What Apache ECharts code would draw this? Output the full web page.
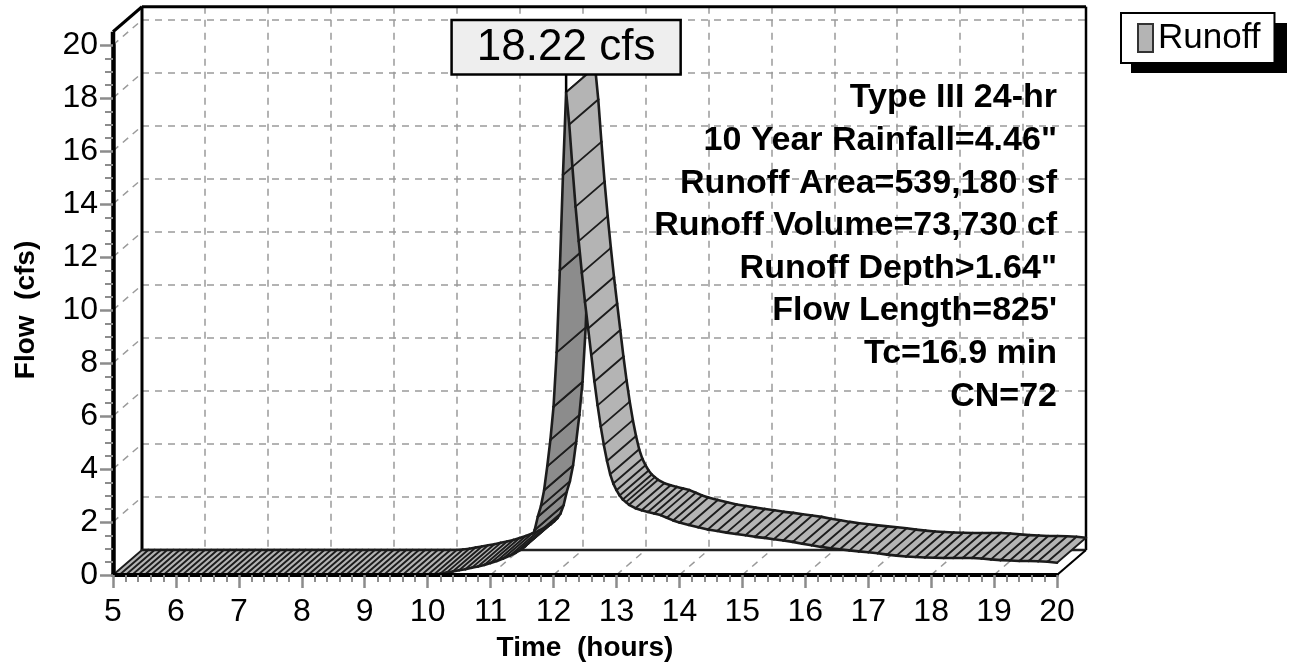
<!DOCTYPE html>
<html><head><meta charset="utf-8">
<script src="https://cdn.jsdelivr.net/npm/echarts@6/dist/echarts.min.js"></script>
<style>html,body{margin:0;padding:0;background:#fff}#c{width:1291px;height:664px}</style>
</head><body><div id="c"></div>
<script>
// ---- data (hours, cfs) ----
const times = [
 5.0,5.1,5.2,5.3,5.4,5.5,5.6,5.7,5.8,5.9,6.0,6.1,6.2,6.3,6.4,6.5,6.6,6.7,6.8,6.9,
 7.0,7.1,7.2,7.3,7.4,7.5,7.6,7.7,7.8,7.9,8.0,8.1,8.2,8.3,8.4,8.5,8.6,8.7,8.8,8.9,
 9.0,9.1,9.2,9.3,9.4,9.5,9.6,9.7,9.8,9.9,10.0,10.1,10.2,10.3,10.4,10.5,10.6,10.7,10.8,10.9,
 11.0,11.1,11.2,11.3,11.4,11.5,11.55,11.6,11.65,11.7,11.75,11.8,11.85,11.9,11.95,
 12.0,12.05,12.1,12.15,12.2,12.25,12.3,12.35,12.4,12.45,12.5,12.55,12.6,12.65,12.7,12.75,12.8,12.85,12.9,12.95,
 13.0,13.05,13.1,13.15,13.2,13.3,13.4,13.5,13.6,13.7,13.8,13.9,
 14.0,14.15,14.3,14.45,14.6,14.75,14.9,15.05,15.2,15.35,15.5,15.65,15.8,15.95,
 16.1,16.25,16.4,16.55,16.7,16.85,17.0,17.15,17.3,17.45,17.6,17.75,17.9,18.05,
 18.2,18.35,18.5,18.65,18.8,18.95,19.1,19.25,19.4,19.55,19.7,19.85,20.0
];
const flows = [
 0,0,0,0,0,0,0,0,0,0,0,0,0,0,0,0,0,0,0,0,
 0,0,0,0,0,0,0,0,0,0,0,0,0,0,0,0,0,0,0,0,
 0,0,0,0,0,0,0,0,0,0,0,0.02,0.05,0.09,0.13,0.18,0.22,0.27,0.32,0.38,
 0.45,0.53,0.62,0.72,0.84,0.98,1.08,1.20,1.38,1.70,2.20,2.60,3.20,4.10,5.10,
 6.35,8.40,11.5,15.1,18.22,17.0,15.4,13.9,12.6,11.4,10.3,9.3,8.3,7.3,6.4,5.6,4.9,4.3,3.8,3.45,
 3.20,3.00,2.85,2.75,2.65,2.52,2.44,2.38,2.32,2.26,2.16,2.06,
 1.98,1.89,1.80,1.72,1.66,1.60,1.55,1.50,1.44,1.40,1.35,1.30,1.25,1.18,
 1.12,1.06,1.01,0.97,0.93,0.89,0.86,0.82,0.77,0.73,0.70,0.68,0.66,0.65,
 0.64,0.64,0.64,0.64,0.62,0.59,0.56,0.55,0.53,0.53,0.52,0.50,0.46
];
const peakTime = 12.2;
const peakFlow = 18.22;
const peakLabel = '18.22 cfs';
const infoLines = ['Type III 24-hr','10 Year Rainfall=4.46"','Runoff Area=539,180 sf','Runoff Volume=73,730 cf','Runoff Depth>1.64"',"Flow Length=825'",'Tc=16.9 min','CN=72'];
const seriesName = 'Runoff';
const xTitle = 'Time  (hours)';
const yTitle = 'Flow  (cfs)';
const xRange = [5, 20];
const yRange = [0, 20];
const wallTop = 20.5;

// ---- style ----
const DX = 29, DY = -25;            // depth offset of back wall (px)
const LIGHT = '#b4b4b4', DARK = '#8c8c8c', EDGE = '#1c1c1c';
const GRIDC = '#9a9a9a', TICKC = '#8c8c8c';
const FONT = 'Liberation Sans, Arial, Helvetica, sans-serif';

const segs = [];
for (let i = 0; i < times.length - 1; i++) segs.push([times[i], flows[i], times[i+1], flows[i+1]]);

function seg(a, b, w) {
  return { type: 'line', shape: { x1: a[0], y1: a[1], x2: b[0], y2: b[1] },
    style: { stroke: EDGE, lineWidth: w, lineCap: 'round' } };
}
function ribbon(wantDark) {
  return function (params, api) {
    const p0 = api.coord([api.value(0), api.value(1)]);
    const p1 = api.coord([api.value(2), api.value(3)]);
    const ex = p1[0] - p0[0], ey = p1[1] - p0[1];
    const dark = (ex * DY - ey * DX) > 0;
    if (dark !== wantDark) return null;
    const b0 = [p0[0] + DX, p0[1] + DY], b1 = [p1[0] + DX, p1[1] + DY];
    const ch = [{ type: 'polygon', shape: { points: [p0, p1, b1, b0] }, style: { fill: dark ? DARK : LIGHT } }];
    ch.push(seg(p0, b0, 1.9));
    if (dark || params.dataIndex === segs.length - 1) ch.push(seg(p1, b1, 1.9));
    ch.push(seg(p0, p1, 2.6));
    ch.push(seg(b0, b1, 2.6));
    return { type: 'group', children: ch };
  };
}

function frame(params, api) {
  const ch = [];
  const L = (a, b, w, c, dash) => ch.push({ type: 'line', shape: { x1: a[0], y1: a[1], x2: b[0], y2: b[1] },
    style: { stroke: c, lineWidth: w, lineDash: dash || null } });
  const bk = p => [p[0] + DX, p[1] + DY];
  const f00 = api.coord([xRange[0], 0]), f10 = api.coord([xRange[1], 0]);
  const f0t = api.coord([xRange[0], wallTop]), f1t = api.coord([xRange[1], wallTop]);
  for (let v = 2; v <= yRange[1]; v += 2) { const p = api.coord([xRange[0], v]); L(p, bk(p), 1.5, GRIDC, [7, 6]); }
  for (let t = 6; t <= xRange[1]; t += 1) { const p = api.coord([t, 0]); L(p, bk(p), 1.5, GRIDC, [7, 6]); }
  L(bk(f00), bk(f0t), 3, '#000');
  L(bk(f10), bk(f1t), 2.5, '#000');
  L(bk(f0t), bk(f1t), 3, '#000');
  L(bk(f00), bk(f10), 2.5, '#222');
  L(f0t, bk(f0t), 3, '#000');
  L(f10, bk(f10), 2, '#000');
  L(api.coord([xRange[0], yRange[1]]), f0t, 4.5, '#000');
  return { type: 'group', children: ch };
}

function peakMark(params, api) {
  const p = api.coord([api.value(0), api.value(1)]);
  const gap = 19;
  return { type: 'group', children: [
    { type: 'line', shape: { x1: p[0], y1: p[1], x2: p[0], y2: p[1] - gap }, style: { stroke: '#000', lineWidth: 2.5 } },
    { type: 'text', x: p[0], y: p[1] - gap, style: {
      text: peakLabel, align: 'center', verticalAlign: 'bottom', font: '44px ' + FONT, fill: '#000',
      backgroundColor: '#eeeeee', borderColor: '#000', borderWidth: 2.5, padding: [3, 24, 1, 24], lineHeight: 48 } }
  ]};
}

const INFO_LH = 42.6;
function infoText(params, api) {
  const p = api.coord([api.value(0), api.value(1)]);
  return { type: 'text', x: p[0], y: p[1] - INFO_LH / 2, style: {
    text: infoLines.join('\n'), align: 'right', verticalAlign: 'top', font: 'bold 34px ' + FONT,
    fill: '#000', lineHeight: INFO_LH } };
}

const chart = echarts.init(document.getElementById('c'), null, { renderer: 'canvas' });
const axisFont = { fontFamily: FONT, color: '#000' };
chart.setOption({
  animation: false,
  backgroundColor: '#fff',
  grid: [
    { left: 113, right: 234, top: 45, bottom: 89, containLabel: false, outerBoundsMode: 'none' },
    { left: 113 + DX, right: 234 - DX, top: 45 + DY - (wallTop - yRange[1]) * 26.5, bottom: 89 - DY,
      containLabel: false, outerBoundsMode: 'none' }
  ],
  xAxis: [
    { type: 'value', gridIndex: 0, min: xRange[0], max: xRange[1], interval: 1, z: 10,
      axisLine: { lineStyle: { color: '#000', width: 4 } },
      axisTick: { length: 13, lineStyle: { color: TICKC, width: 2.5 } },
      minorTick: { show: true, splitNumber: 5, length: 7, lineStyle: { color: TICKC, width: 2 } },
      axisLabel: Object.assign({ fontSize: 32, margin: 21 }, axisFont),
      splitLine: { show: false },
      name: xTitle, nameLocation: 'middle', nameGap: 59,
      nameTextStyle: { fontFamily: FONT, fontWeight: 'bold', fontSize: 28, color: '#000' } },
    { type: 'value', gridIndex: 1, min: xRange[0], max: xRange[1], interval: 1,
      axisLine: { show: false }, axisTick: { show: false }, axisLabel: { show: false },
      splitLine: { show: true, lineStyle: { color: GRIDC, width: 1.5, type: [7, 6] } } }
  ],
  yAxis: [
    { type: 'value', gridIndex: 0, min: yRange[0], max: yRange[1], interval: 2, z: 10,
      axisLine: { lineStyle: { color: '#000', width: 4.5 } },
      axisTick: { length: 13, lineStyle: { color: TICKC, width: 2.5 } },
      minorTick: { show: true, splitNumber: 4, length: 8, lineStyle: { color: TICKC, width: 2 } },
      axisLabel: Object.assign({ fontSize: 32, margin: 15 }, axisFont),
      splitLine: { show: false },
      name: yTitle, nameLocation: 'middle', nameGap: 73, nameRotate: 90,
      nameTextStyle: { fontFamily: FONT, fontWeight: 'bold', fontSize: 28, color: '#000' } },
    { type: 'value', gridIndex: 1, min: yRange[0], max: wallTop, interval: 2,
      axisLine: { show: false }, axisTick: { show: false }, axisLabel: { show: false },
      splitLine: { show: true, lineStyle: { color: GRIDC, width: 1.5, type: [7, 6] } } }
  ],
  legend: {
    data: [{ name: seriesName, icon: 'rect' }], left: 1121, top: 13, orient: 'horizontal', z: 20,
    itemWidth: 15, itemHeight: 28, itemGap: 8,
    itemStyle: { borderColor: '#333', borderWidth: 2 },
    textStyle: { fontFamily: FONT, fontSize: 35, lineHeight: 36, color: '#000' },
    backgroundColor: '#fff', borderColor: '#000', borderWidth: 2, borderRadius: 0,
    padding: [7, 14, 7, 16]
  },
  graphic: [{
    type: 'rect', left: 1131, top: 23, z: 1, silent: true,
    shape: { width: 156, height: 50 }, style: { fill: '#000' }
  }],
  series: [
    { type: 'custom', name: 'frame', xAxisIndex: 0, yAxisIndex: 0, z: 1, silent: true,
      data: [[xRange[0], 0]], renderItem: frame, clip: false },
    { type: 'custom', name: 'underside', xAxisIndex: 0, yAxisIndex: 0, z: 3, silent: true,
      data: segs, encode: { x: [0, 2], y: [1, 3] }, renderItem: ribbon(true), itemStyle: { color: DARK } },
    { type: 'custom', name: seriesName, xAxisIndex: 0, yAxisIndex: 0, z: 4, silent: true,
      data: segs, encode: { x: [0, 2], y: [1, 3] }, renderItem: ribbon(false), itemStyle: { color: LIGHT } },
    { type: 'custom', name: 'info', xAxisIndex: 0, yAxisIndex: 0, z: 5, silent: true,
      data: [[xRange[1], 18]], renderItem: infoText, clip: false },
    { type: 'custom', name: 'peak', xAxisIndex: 0, yAxisIndex: 0, z: 6, silent: true,
      data: [[peakTime, peakFlow]], renderItem: peakMark, clip: false }
  ]
});
</script></body></html>
